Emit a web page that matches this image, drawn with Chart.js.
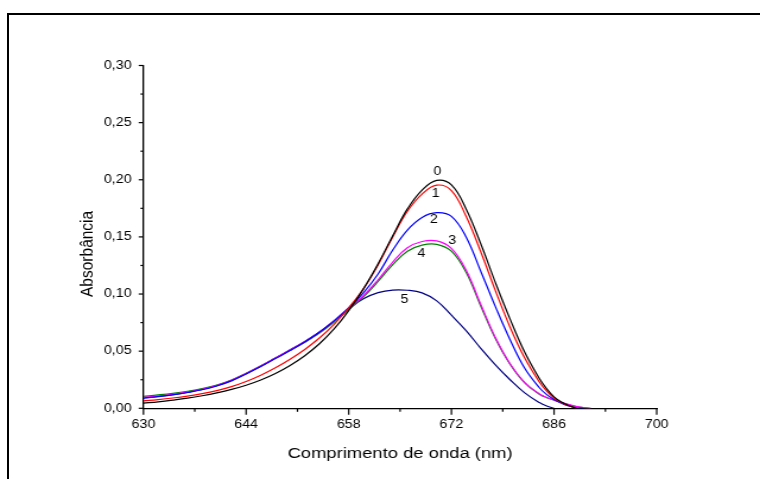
<!DOCTYPE html>
<html><head><meta charset="utf-8">
<script src="https://cdn.jsdelivr.net/npm/chart.js@4"></script>
<style>
html,body{margin:0;padding:0;background:#fff;overflow:hidden;width:760px;height:479px;}
#frame{position:absolute;left:7px;top:13px;width:800px;height:500px;border-left:2px solid #000;border-top:2px solid #000;}
#wrap{position:absolute;left:0;top:0;width:640px;height:479px;transform:scaleX(1.1875);transform-origin:0 0;}
</style></head><body>
<div id="frame"></div>
<div id="wrap"><canvas id="c"></canvas></div>
<script>
const wavelengths = [630,632,634,636,638,640,642,644,646,648,650,652,654,656,658,660,662,664,666,668,670,672,674,676,678,680,682,684,685,686,687,688,689,690,691];
const series0 = [0.0045,0.0057,0.0072,0.0089,0.0110,0.0135,0.0165,0.0202,0.0248,0.0305,0.0375,0.0460,0.0565,0.0695,0.0855,0.1045,0.1265,0.1510,0.1745,0.1910,0.1995,0.1955,0.1745,0.1440,0.1100,0.0780,0.0490,0.0260,0.0170,0.0100,0.0055,0.0025,0.0,null,null];
const series1 = [0.0065,0.0076,0.0090,0.0107,0.0128,0.0155,0.0190,0.0235,0.0290,0.0355,0.0430,0.0515,0.0615,0.0735,0.0880,0.1045,0.1255,0.1500,0.1725,0.1875,0.1953,0.1905,0.1680,0.1370,0.1030,0.0710,0.0440,0.0230,0.0150,0.0090,0.0050,0.0022,0.0,null,null];
const series2 = [0.0088,0.0102,0.0118,0.0138,0.0162,0.0195,0.0240,0.0300,0.0365,0.0435,0.0505,0.0580,0.0665,0.0765,0.0880,0.1010,0.1175,0.1385,0.1560,0.1670,0.1712,0.1680,0.1500,0.1200,0.0890,0.0600,0.0350,0.0180,0.0120,0.0078,0.0045,0.0020,0.0005,0.0,null];
const series3 = [0.0095,0.0108,0.0123,0.0142,0.0167,0.0200,0.0245,0.0305,0.0370,0.0440,0.0510,0.0583,0.0665,0.0765,0.0875,0.0985,0.1125,0.1280,0.1405,0.1460,0.1465,0.1400,0.1210,0.0910,0.0620,0.0390,0.0225,0.0125,0.0095,0.0073,0.0052,0.0033,0.0017,0.0006,0.0];
const series4 = [0.0105,0.0117,0.0131,0.0149,0.0172,0.0204,0.0248,0.0307,0.0372,0.0440,0.0508,0.0578,0.0658,0.0755,0.0865,0.0975,0.1110,0.1258,0.1375,0.1428,0.1435,0.1375,0.1190,0.0895,0.0610,0.0385,0.0222,0.0123,0.0093,0.0072,0.0051,0.0032,0.0016,0.0006,0.0];
const series5 = [0.0090,0.0104,0.0120,0.0140,0.0165,0.0198,0.0243,0.0303,0.0368,0.0440,0.0512,0.0585,0.0668,0.0765,0.0870,0.0958,0.1012,0.1035,0.1033,0.1010,0.0940,0.0815,0.0680,0.0525,0.0380,0.0250,0.0135,0.0050,0.0020,0.0,null,null,null,null,null];
const seriesNames = ['0','1','2','3','4','5'];
const seriesColors = ['#000000','#ff0000','#0000ff','#ff00ff','#008000','#000080'];
const xTickLabels = ['630','644','658','672','686','700'];
const yTickLabels = ['0,00','0,05','0,10','0,15','0,20','0,25','0,30'];
const curveLabelX = [670.1, 669.85, 669.6, 672.1, 667.9, 665.6];
const curveLabelY = [0.207, 0.1875, 0.165, 0.1464, 0.135, 0.0948];
const xTitle = 'Comprimento de onda (nm)';
const yTitle = 'Absorbância';

const FONT = "'Liberation Sans', Arial, sans-serif";
const seriesValues = [series0, series1, series2, series3, series4, series5];
const datasets = seriesValues.map((vals, i) => ({
  label: seriesNames[i],
  data: vals.map((v, j) => ({x: wavelengths[j], y: v})),
  borderColor: seriesColors[i],
  borderWidth: 1.2,
  pointRadius: 0,
  tension: 0.4,
  fill: false
}));

const extras = {
  id: 'extras',
  afterDraw(chart) {
    const ctx = chart.ctx, xs = chart.scales.x, ys = chart.scales.y, a = chart.chartArea;
    ctx.save();
    ctx.strokeStyle = '#000';
    ctx.lineWidth = 1.2;
    for (let i = 0; i <= 10; i++) {
      const px = xs.getPixelForValue(630 + 7 * i);
      const len = (i % 2 === 0) ? 6.5 : 3.5;
      ctx.beginPath(); ctx.moveTo(px, a.bottom); ctx.lineTo(px, a.bottom + len); ctx.stroke();
    }
    for (let i = 0; i <= 12; i++) {
      const py = ys.getPixelForValue(0.025 * i);
      const len = (i % 2 === 0) ? 4 : 2.5;
      ctx.beginPath(); ctx.moveTo(a.left, py); ctx.lineTo(a.left - len, py); ctx.stroke();
    }
    ctx.fillStyle = '#000';
    ctx.font = '12px ' + FONT;
    ctx.textAlign = 'center';
    ctx.textBaseline = 'middle';
    for (let i = 0; i < seriesNames.length; i++) {
      ctx.fillText(seriesNames[i], xs.getPixelForValue(curveLabelX[i]), ys.getPixelForValue(curveLabelY[i]));
    }
    ctx.font = '15.5px ' + FONT;
    ctx.translate(a.left - 47.5, (a.top + a.bottom) / 2 + 17);
    ctx.rotate(-Math.PI / 2);
    ctx.fillText(yTitle, 0, 0);
    ctx.restore();
  }
};

new Chart(document.getElementById('c'), {
  type: 'line',
  data: {datasets},
  plugins: [extras],
  options: {
    responsive: true, maintainAspectRatio: false, animation: false,
    layout: {padding: {left: 0, top: 65.5, right: 87, bottom: 10.7}},
    plugins: {legend: {display: false}, tooltip: {enabled: false}},
    scales: {
      x: {
        type: 'linear', min: 630, max: 700,
        afterFit(s) { s.height = 60; },
        grid: {display: false, drawTicks: false},
        border: {display: true, color: '#000', width: 1.3},
        ticks: {stepSize: 14, padding: 9.5, color: '#000', font: {family: FONT, size: 12}, autoSkip: false, maxRotation: 0,
          callback: (v, i) => xTickLabels[i]},
        title: {display: true, text: xTitle, color: '#000', font: {family: FONT, size: 15.5}, padding: {top: 0, bottom: 5}}
      },
      y: {
        type: 'linear', min: 0, max: 0.3,
        afterFit(s) { s.width = 120.8; },
        grid: {display: false, drawTicks: false},
        border: {display: true, color: '#000', width: 1.3},
        ticks: {stepSize: 0.05, padding: 10, color: '#000', font: {family: FONT, size: 12},
          callback: (v, i) => yTickLabels[i]}
      }
    }
  }
});
</script>
</body></html>
